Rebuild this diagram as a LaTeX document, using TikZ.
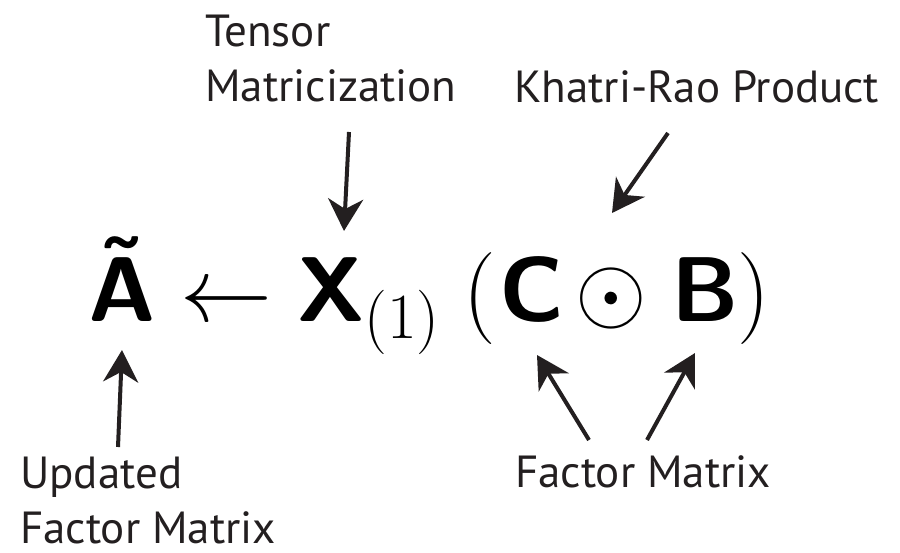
\documentclass[tikz,border=0pt]{standalone}
\usepackage{fix-cm}
\usepackage{amsmath}
\usepackage[no-math]{fontspec}
\setmainfont{PT Sans}
\usetikzlibrary{arrows.meta,positioning}

\definecolor{ink}{HTML}{231F20}
\newcommand{\bsf}{\fontencoding{OT1}\fontfamily{cmss}\fontseries{bx}\selectfont}
\tikzset{
  tag/.style={font=\fontsize{45}{55}\selectfont, text=ink, inner sep=0pt, align=left},
  sym/.style={font=\fontsize{92}{100}\selectfont, inner sep=0pt, anchor=base west},
  pointer/.style={draw=ink, line width=4pt, -{Stealth[length=32pt,width=35pt,inset=10pt]}}
}

\begin{document}
\begin{tikzpicture}[x=1pt,y=-1pt]
\useasboundingbox (0,0) rectangle (900,553);
% formula, one piece per node
\node[sym] (Atil) at (88,322) {\bsf\~A};
\node[sym] (larr) at (180,322) {$\leftarrow$};
\node[sym] (Xmat) at (297,322) {\bsf X$_{(1)}$};
\node[sym] (lpar) at (463,322) {$($};
\node[sym] (Cmat) at (499,322) {\bsf C};
\node[sym] (odot) at (575,322) {$\odot$};
\node[sym] (Bmat) at (671,322) {\bsf B};
\node[sym] (rpar) at (737,322) {$)$};
% labels (base = last line)
\node[tag, anchor=base west] (tensor) at (205,102) {Tensor\\Matricization};
\node[tag, anchor=base west] (khatri) at (514,103) {Khatri-Rao Product};
\node[tag, anchor=base west] (updated) at (20,543) {Updated\\Factor Matrix};
\node[tag, anchor=base west] (factor) at (515,487) {Factor Matrix};
% arrow ends
\coordinate (t1) at (349,132); \coordinate (h1) at (344,231);
\coordinate (t2) at (668,133); \coordinate (h2) at (612,213);
\coordinate (t3) at (118,447); \coordinate (h3) at (122,350);
\coordinate (t4) at (589,440); \coordinate (h4) at (537,355);
\coordinate (t5) at (647,440); \coordinate (h5) at (695,353);
\foreach \i in {1,...,5}
  \draw[pointer] (t\i) -- (h\i);
\end{tikzpicture}
\end{document}
